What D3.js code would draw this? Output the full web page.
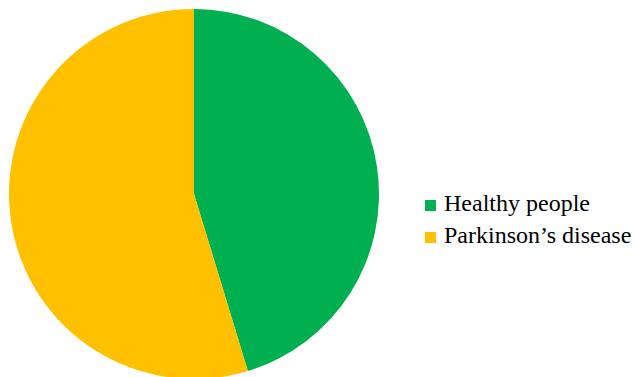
<!DOCTYPE html>
<html><head><meta charset="utf-8">
<script src="https://cdn.jsdelivr.net/npm/d3@7"></script>
<style>html,body{margin:0;padding:0;background:#fff;}</style>
</head><body>
<svg id="c" width="635" height="377"></svg>
<script>
const categories = ["Healthy people", "Parkinson’s disease"];
const values = [45.3, 54.7];
const colors = ["#00B050", "#FFC000"];

const svg = d3.select("#c");
const cx = 194, cy = 194, r = 185;
const pie = d3.pie().sort(null).value(d => d)(values);
const arc = d3.arc().innerRadius(0).outerRadius(r);
const g = svg.append("g").attr("transform", `translate(${cx},${cy})`);
g.selectAll("path").data(pie).enter().append("path")
  .attr("d", arc).attr("fill", (d, i) => colors[i]);

const leg = svg.append("g").attr("transform", "translate(425,200)");
const items = leg.selectAll("g").data(categories).enter().append("g")
  .attr("transform", (d, i) => `translate(0,${i * 32})`);
items.append("rect").attr("width", 11).attr("height", 11).attr("fill", (d, i) => colors[i]);
items.append("text").attr("x", 19).attr("y", 11)
  .attr("font-family", "Liberation Serif, Times New Roman, serif")
  .attr("font-size", 24).attr("fill", "#000").text(d => d);
</script>
</body></html>
